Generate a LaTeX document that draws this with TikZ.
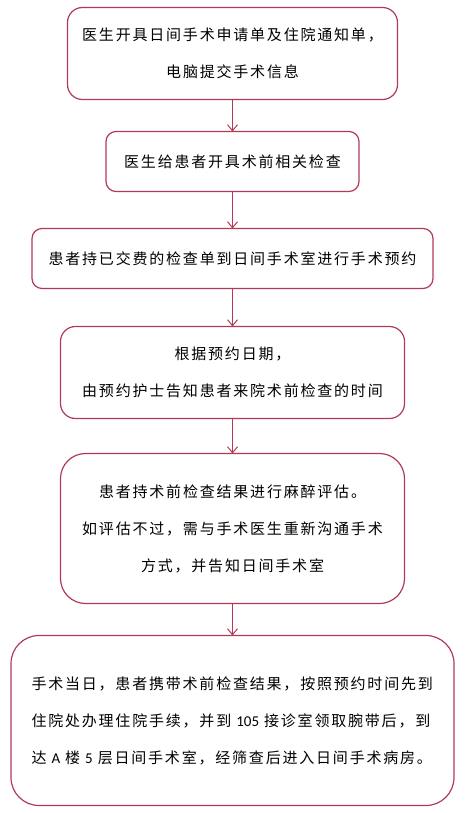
\documentclass[tikz,border=0pt]{standalone}
\usepackage{fontspec}
\setmainfont{Noto Sans CJK SC}[LetterSpace=12]
\newfontfamily\numfont{Carlito}
\usepackage{xcolor}
\usetikzlibrary{arrows.meta, positioning}
\definecolor{stepred}{RGB}{178,58,86}

\begin{document}
\begin{tikzpicture}[
    x=1pt, y=1pt,
    node distance=35pt,
    stepbox/.style={rectangle, draw=stepred, line width=1.2pt, align=center, inner sep=0pt, outer sep=0pt, font=\fontsize{15}{37}\selectfont},
    arrow/.style={draw=stepred, line width=1pt, -{Straight Barb[length=6pt, width=10pt]}}
]
\useasboundingbox (0,0) rectangle (470,-813);

% Steps
\node (order) [stepbox, rounded corners=15pt, minimum width=330pt, minimum height=92pt] at (232.5,-53.5) {医生开具日间手术申请单及住院通知单，\\电脑提交手术信息};
\node (exam) [stepbox, rounded corners=10pt, minimum width=253pt, minimum height=60pt, below=32pt of order] {医生给患者开具术前相关检查};
\node (booking) [stepbox, rounded corners=10pt, minimum width=401pt, minimum height=60pt, below=37pt of exam] {患者持已交费的检查单到日间手术室进行手术预约};
\node (notice) [stepbox, rounded corners=15pt, minimum width=344pt, minimum height=92pt, below=38pt of booking] {根据预约日期，\\由预约护士告知患者来院术前检查的时间};
\node (assess) [stepbox, rounded corners=25pt, minimum width=344pt, minimum height=150pt, below=35pt of notice] {患者持术前检查结果进行麻醉评估。\\如评估不过，需与手术医生重新沟通手术\\方式，并告知日间手术室};
\node (surgery) [stepbox, rounded corners=28pt, align=left, text width=402pt, inner xsep=20.5pt, minimum height=170pt, below=32pt of assess] {手术当日，患者携带术前检查结果，按照预约时间先到\\住院处办理住院手续，并到 {\numfont 105} 接诊室领取腕带后，到\\达 {\numfont A} 楼 {\numfont 5} 层日间手术室，经筛查后进入日间手术病房。};

% Arrows
\draw [arrow] (order) -- (exam);
\draw [arrow] (exam) -- (booking);
\draw [arrow] (booking) -- (notice);
\draw [arrow] (notice) -- (assess);
\draw [arrow] (assess) -- (surgery);
\end{tikzpicture}
\end{document}
